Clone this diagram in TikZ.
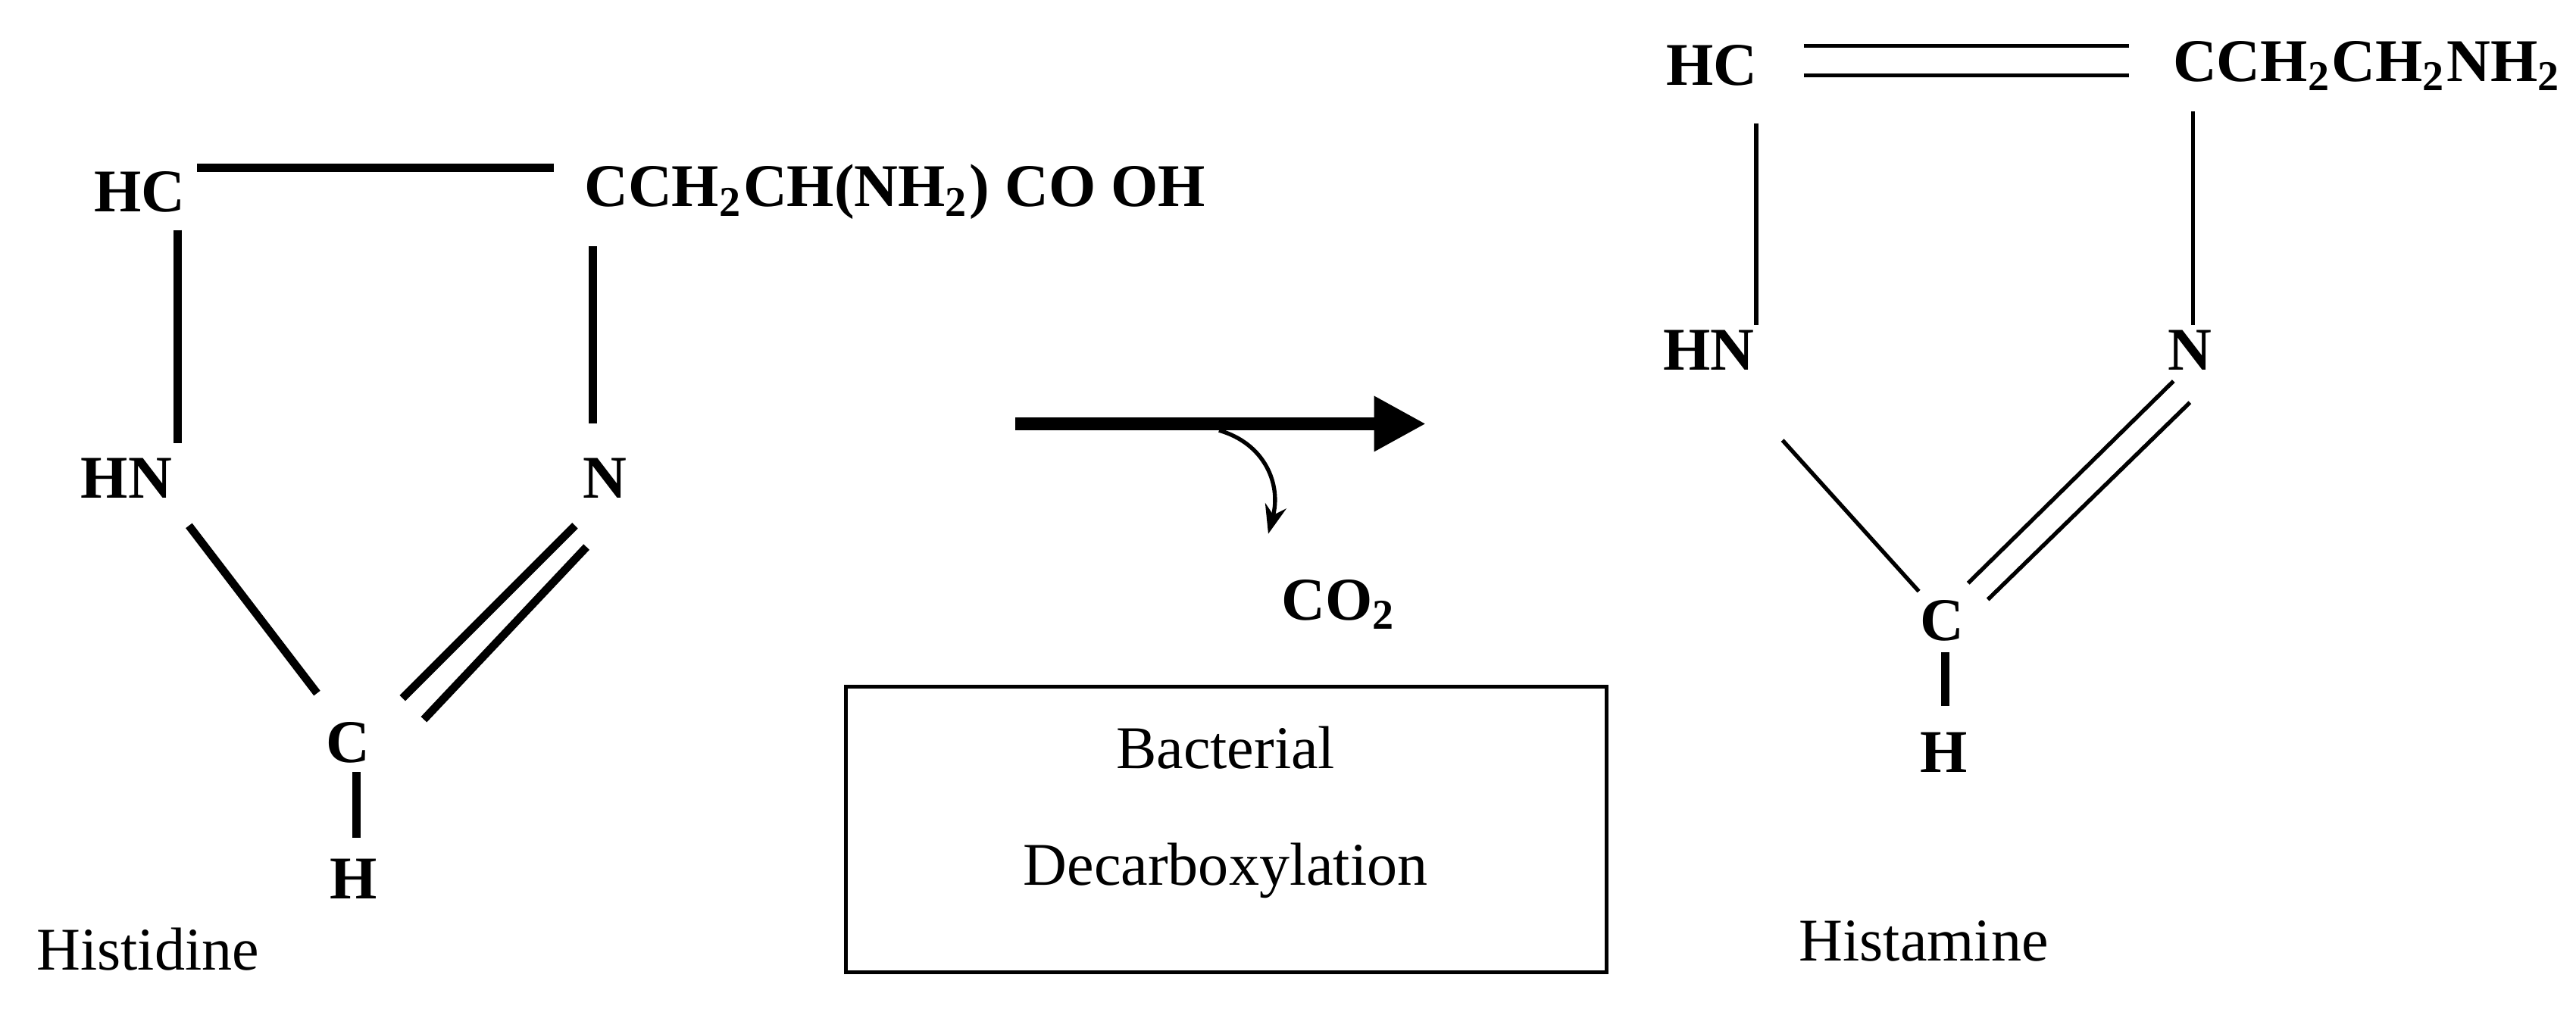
\documentclass[tikz,border=0pt]{standalone}
\usepackage{fontspec}
\setmainfont{Liberation Serif}
\usetikzlibrary{arrows.meta}
\begin{document}
\begin{tikzpicture}[x=0.01cm,y=-0.01cm,
  lab/.style={font=\fontsize{10.5}{12}\selectfont\bfseries,inner sep=0pt},
  reg/.style={font=\fontsize{10.5}{12}\selectfont,inner sep=0pt},
  thk/.style={line width=1.4pt},
  thn/.style={line width=0.7pt}]
\useasboundingbox (0,0) rectangle (1568,614);
% Histidine
\node[lab] (hc1) at (85,117) {HC};
\node[lab,anchor=west] (r1) at (355,117) {CCH\textsubscript{2}CH(NH\textsubscript{2}) CO OH};
\node[lab] (hn1) at (77,291) {HN};
\node[lab] (n1) at (368,291) {N};
\node[lab] (c1) at (212,452) {C};
\node[lab] (h1) at (215,535) {H};
\node[reg] (t1) at (90,578) {Histidine};
\coordinate (a1) at (120,102); \coordinate (a2) at (337,102);
\draw[thk] (a1) -- (a2);
\draw[thk] (108,140) -- (108,270);
\draw[thk] (361,150) -- (361,258);
\draw[thk] (115,320) -- (193,422);
\draw[thk] (350,320) -- (245,425);
\draw[thk] (357,333) -- (258,438);
\draw[thk] (217,470) -- (217,510);
% arrow
\coordinate (ar1) at (618,258); \coordinate (ar2) at (868,258);
\draw[line width=2.3pt,-{Triangle[length=9pt,width=9pt]}] (ar1) -- (ar2);
\coordinate (cs) at (742,262); \coordinate (ce) at (772,325);
\draw[thn,-{Stealth[length=5pt]}] (cs) .. controls (770,270) and (780,295) .. (ce);
\node[lab] (co2) at (815,368) {CO\textsubscript{2}};
\node[draw,thn,minimum width=463*0.01cm,minimum height=174*0.01cm] (box) at (746.5,505) {};
\node[reg] (b1) at (746,455) {Bacterial};
\node[reg] (b2) at (746,530) {Decarboxylation};
% Histamine
\node[lab] (hc2) at (1042,40) {HC};
\node[lab,anchor=west] (r2) at (1322,40) {CCH\textsubscript{2}CH\textsubscript{2}NH\textsubscript{2}};
\node[lab] (hn2) at (1040,213) {HN};
\node[lab] (n2) at (1333,213) {N};
\node[lab] (c2) at (1182,378) {C};
\node[lab] (h2) at (1183,458) {H};
\node[reg] (t2) at (1171,573) {Histamine};
\draw[thn] (1098,28) -- (1296,28);
\draw[thn] (1098,46) -- (1296,46);
\draw[thn] (1069,75) -- (1069,198);
\draw[thn] (1335,68) -- (1335,198);
\draw[thn] (1085,268) -- (1168,360);
\draw[thn] (1323,232) -- (1198,355);
\draw[thn] (1333,245) -- (1210,365);
\draw[thk] (1184,397) -- (1184,430);
\end{tikzpicture}
\end{document}
